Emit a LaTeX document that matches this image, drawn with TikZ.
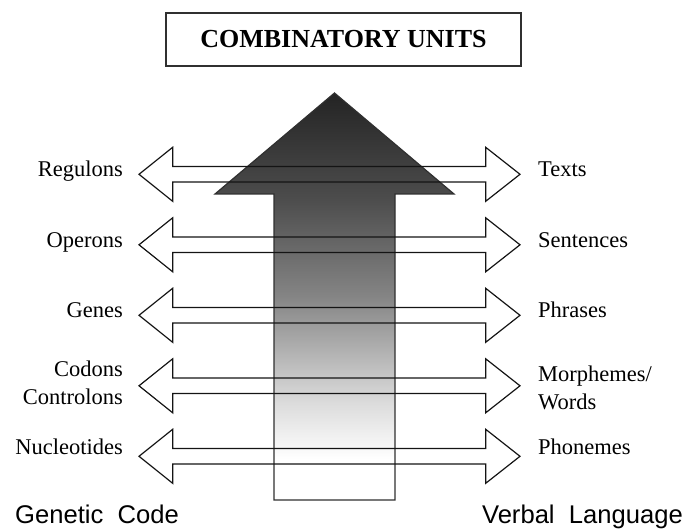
\documentclass[tikz,border=0pt]{standalone}
\usepackage{fontspec}
\setmainfont{Liberation Serif}
\setsansfont{Liberation Sans}
\usepackage{tikz}
\definecolor{edgegray}{HTML}{303030}
\definecolor{dualedge}{HTML}{141414}
\pgfdeclareverticalshading{bigfade}{100bp}{color(0bp)=(white); color(30bp)=(white); color(37bp)=(black!14); color(50bp)=(black!48); color(62bp)=(black!70); color(75bp)=(black!86); color(100bp)=(black!86)}
\tikzstyle{titlebox} = [rectangle, minimum width=355pt, minimum height=53pt, draw=edgegray, line width=1.3pt, font=\fontsize{26}{30}\selectfont\bfseries]
\tikzstyle{leftlabel} = [anchor=base east, inner sep=0pt, align=right, font=\fontsize{22.5}{28}\selectfont]
\tikzstyle{rightlabel} = [anchor=base west, inner sep=0pt, align=left, font=\fontsize{22.5}{28}\selectfont]
\tikzstyle{langlabel} = [inner sep=0pt, font=\sffamily\fontsize{25.6}{30}\selectfont]
\tikzstyle{dual} = [draw=dualedge, line width=1.2pt, line join=miter]
\tikzstyle{bigarrow} = [draw=edgegray, line width=1.2pt, shading=bigfade]

\begin{document}
\begin{tikzpicture}[x=1pt, y=-1pt]

	\useasboundingbox (0,0) rectangle (686,529);

	\node (units) [titlebox] at (343.5,39.5) {COMBINATORY UNITS};

	\draw [bigarrow] (334.5,93) coordinate (tip) -- (454,194) -- (395,194) -- (395,500) -- (274,500) -- (274,194) -- (215,194) -- cycle;

	\draw [dual] (139,174.3) -- ++(33.7,-27) -- ++(0,19.3) -- ++(313,0) -- ++(0,-19.3) -- ++(34.3,27) -- ++(-34.3,27) -- ++(0,-19.3) -- ++(-313,0) -- ++(0,19.3) -- cycle;
	\draw [dual] (139,244.8) -- ++(33.7,-27) -- ++(0,19.3) -- ++(313,0) -- ++(0,-19.3) -- ++(34.3,27) -- ++(-34.3,27) -- ++(0,-19.3) -- ++(-313,0) -- ++(0,19.3) -- cycle;
	\draw [dual] (139,315.3) -- ++(33.7,-27) -- ++(0,19.3) -- ++(313,0) -- ++(0,-19.3) -- ++(34.3,27) -- ++(-34.3,27) -- ++(0,-19.3) -- ++(-313,0) -- ++(0,19.3) -- cycle;
	\draw [dual] (139,385.8) -- ++(33.7,-27) -- ++(0,19.3) -- ++(313,0) -- ++(0,-19.3) -- ++(34.3,27) -- ++(-34.3,27) -- ++(0,-19.3) -- ++(-313,0) -- ++(0,19.3) -- cycle;
	\draw [dual] (139,456.3) -- ++(33.7,-27) -- ++(0,19.3) -- ++(313,0) -- ++(0,-19.3) -- ++(34.3,27) -- ++(-34.3,27) -- ++(0,-19.3) -- ++(-313,0) -- ++(0,19.3) -- cycle;

	\node (regulons) [leftlabel] at (123,176.7) {Regulons};
	\node (operons) [leftlabel] at (123,247.2) {Operons};
	\node (genes) [leftlabel] at (123,317.7) {Genes};
	\node (codons) [leftlabel, anchor=east] at (123,383) {Codons\\Controlons};
	\node (nucleotides) [leftlabel] at (123,454.5) {Nucleotides};

	\node (texts) [rightlabel] at (538,176.7) {Texts};
	\node (sentences) [rightlabel] at (538,247.2) {Sentences};
	\node (phrases) [rightlabel] at (538,317.7) {Phrases};
	\node (morphemes) [rightlabel, anchor=west] at (538,388) {Morphemes/\\Words};
	\node (phonemes) [rightlabel] at (538,454.5) {Phonemes};

	\node (genetic) [langlabel, anchor=base west] at (15,523.3) {Genetic~~Code};
	\node (verbal) [langlabel, anchor=base east] at (683,523.3) {Verbal~~Language};

\end{tikzpicture}
\end{document}
